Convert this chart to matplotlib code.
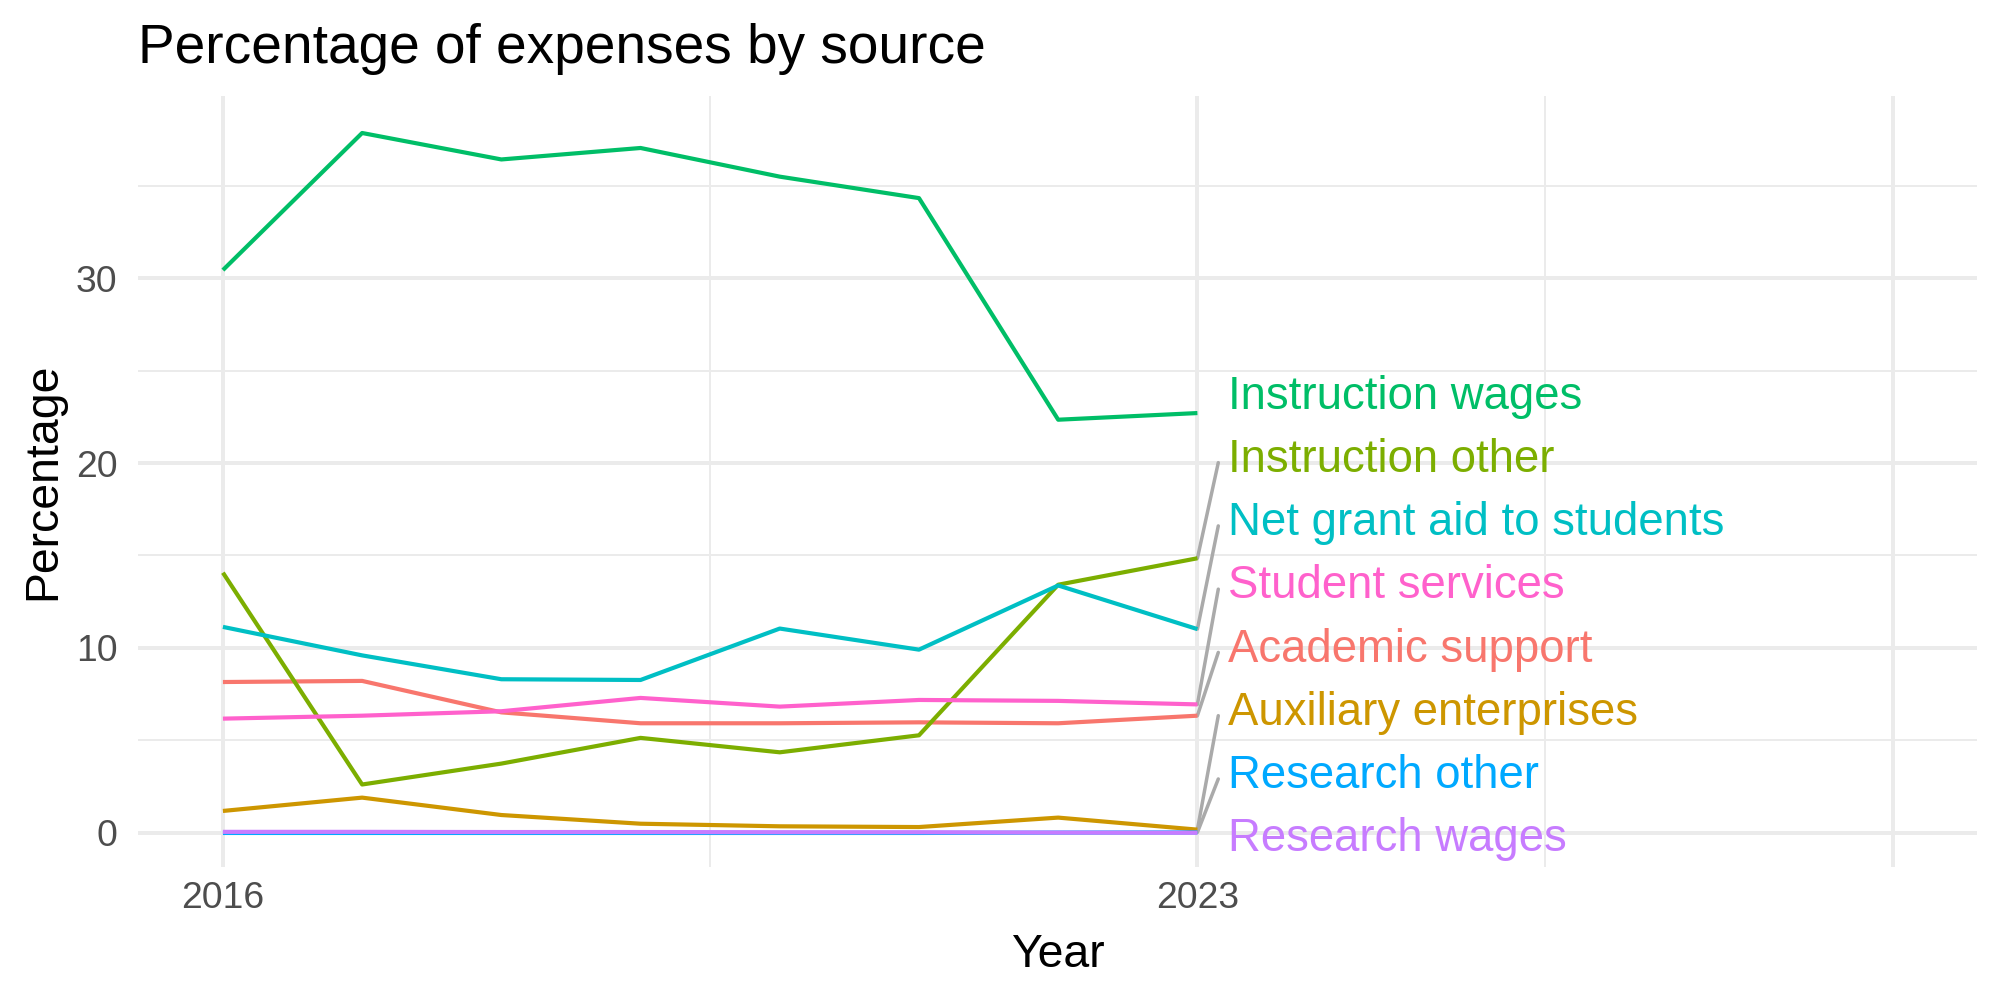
import matplotlib
matplotlib.use('Agg')
import matplotlib.pyplot as plt

# ---- data ----
years = [2016, 2017, 2018, 2019, 2020, 2021, 2022, 2023]
series_names = ["Academic support", "Auxiliary enterprises", "Instruction other",
                "Instruction wages", "Net grant aid to students", "Research other",
                "Research wages", "Student services"]
academic_support = [8.16, 8.22, 6.52, 5.93, 5.93, 5.98, 5.93, 6.34]
auxiliary_enterprises = [1.19, 1.91, 0.97, 0.50, 0.36, 0.32, 0.83, 0.18]
instruction_other = [14.07, 2.62, 3.75, 5.14, 4.36, 5.28, 13.42, 14.85]
instruction_wages = [30.43, 37.84, 36.41, 37.03, 35.48, 34.32, 22.34, 22.70]
net_grant_aid = [11.14, 9.60, 8.31, 8.27, 11.05, 9.91, 13.38, 11.02]
research_other = [0.0, 0.0, 0.0, 0.0, 0.0, 0.0, 0.02, 0.03]
research_wages = [0.06, 0.06, 0.05, 0.05, 0.04, 0.04, 0.02, 0.01]
student_services = [6.18, 6.34, 6.58, 7.30, 6.83, 7.19, 7.14, 6.95]
x_tick_labels = ["2016", "2023", ""]

values = [academic_support, auxiliary_enterprises, instruction_other, instruction_wages,
          net_grant_aid, research_other, research_wages, student_services]
colors = ["#F8766D", "#CD9600", "#7CAE00", "#00BE67", "#00BFC4", "#00A9FF", "#C77CFF", "#FF61CC"]

plt.rcParams['font.family'] = ['Liberation Sans', 'DejaVu Sans']

fig = plt.figure(figsize=(10, 5), dpi=200)
ax = fig.add_axes([0.069, 0.133, 0.9195, 0.771])
ax.set_xlim(2015.39, 2028.6)
ax.set_ylim(-1.84, 39.84)

# grid
ax.set_xticks([2016, 2023, 2028])
ax.set_xticklabels(x_tick_labels)
ax.set_xticks([2019.5, 2025.5], minor=True)
ax.set_yticks([0, 10, 20, 30])
ax.set_yticks([5, 15, 25, 35], minor=True)
ax.grid(which='major', color='#EBEBEB', lw=1.44)
ax.grid(which='minor', color='#EBEBEB', lw=0.72)
ax.set_axisbelow(True)
for s in ax.spines.values():
    s.set_visible(False)
ax.tick_params(which='both', length=0)
ax.tick_params(axis='x', pad=5.2, labelsize=13.4, labelcolor='#4D4D4D')
ax.tick_params(axis='y', pad=7.4, labelsize=13.4, labelcolor='#4D4D4D')

# lines
for name, vals, col in zip(series_names, values, colors):
    ax.plot(years, vals, color=col, lw=1.5, solid_joinstyle='round', solid_capstyle='butt')

# repelled labels at the right end
label_gap = 3.42
label_bottom = -0.35
order = sorted(range(len(series_names)), key=lambda i: values[i][-1])
for rank, i in enumerate(order):
    ly = label_bottom + rank * label_gap
    yv = values[i][-1]
    if abs(ly - yv) > 1.5:
        ax.plot([years[-1], 2023.15], [yv, ly - 0.15], color='#AAAAAA', lw=1.25,
                solid_capstyle='round', zorder=1.5)
    ax.text(2023.22, ly, series_names[i], color=colors[i], fontsize=16.4,
            ha='left', va='center')

# titles
fig.text(0.069, 1 - 63 / 1000, "Percentage of expenses by source", fontsize=19.8,
         ha='left', va='baseline', color='black')
fig.text(0.5287, 0.033, "Year", fontsize=16.7, ha='center', va='baseline')
fig.text(43 / 2000, 0.5185, "Percentage", fontsize=16.7, rotation=90, ha='center', va='center')

fig.savefig('out.png', dpi=200)
